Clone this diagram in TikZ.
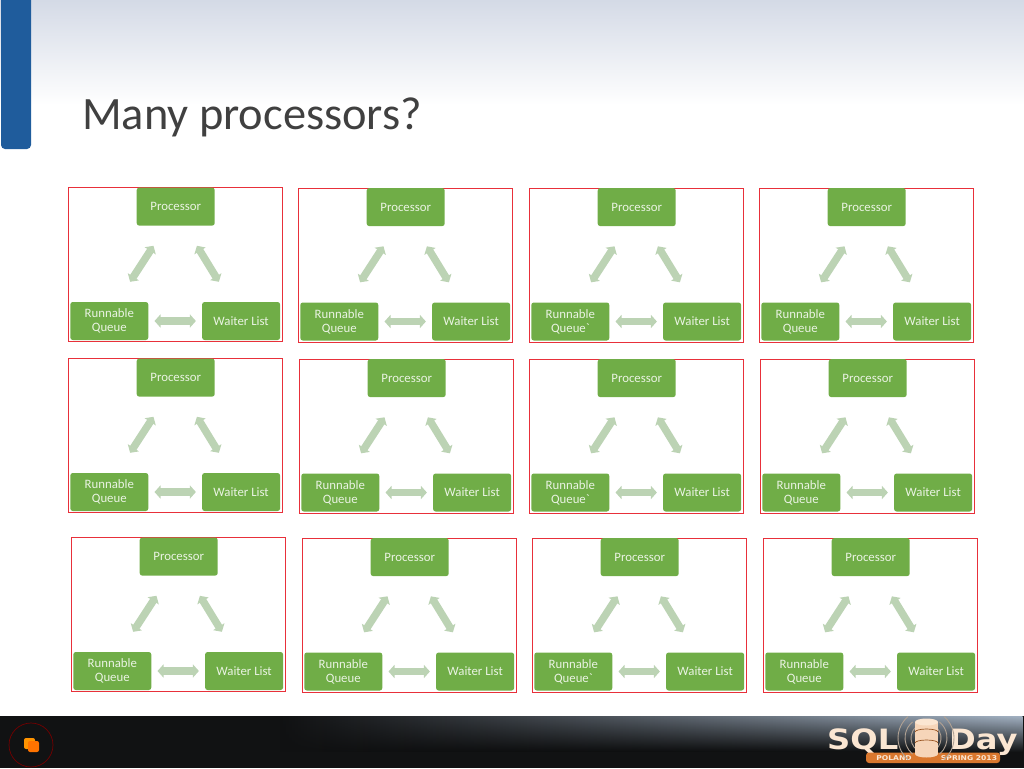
\documentclass[tikz,border=0pt]{standalone}
\usepackage{fontspec}
\setmainfont{Carlito}
\newfontfamily\boxfont{Carlito}
\newfontfamily\logofont[FakeStretch=1.15]{DejaVu Sans}
\usetikzlibrary{positioning, arrows.meta, fadings}
\definecolor{boxgreen}{HTML}{70AD47}
\definecolor{boxtext}{HTML}{EAF3E3}
\definecolor{flowgreen}{HTML}{BCD3B4}
\definecolor{framered}{HTML}{E8303A}
\definecolor{barblue}{HTML}{1F5C9C}
\definecolor{logopeach}{HTML}{FBE6D2}
\definecolor{logoorange}{HTML}{D9772E}
\definecolor{bandslate}{HTML}{A3B2C3}
\definecolor{bandblack}{HTML}{111213}
\tikzfading[name=bandfade, left color=transparent!100, right color=transparent!0]
\tikzstyle{frame} = [rectangle, anchor=north west, minimum width=214pt, minimum height=154pt, inner sep=0pt, draw=framered, line width=1.4pt]
\tikzstyle{process} = [rectangle, rounded corners=2.5pt, minimum width=78pt, minimum height=38pt, inner sep=0pt, align=center, fill=boxgreen, text=boxtext, font=\boxfont\fontsize{12.8}{14}\selectfont]
\tikzstyle{arrow} = [draw=flowgreen, line width=7.5pt, {Triangle[length=6pt,width=13pt]}-{Triangle[length=6pt,width=13pt]}]
\tikzstyle{wave} = [logopeach!70!black, line width=0.9pt]
\newcommand{\panel}[4]{
\node (frame#1) [frame] at (#2,#3) {};
\node (proc#1) [process, below=0.4pt of frame#1.north] {Processor};
\node (run#1) [process, below left=76pt and -12pt of proc#1] {Runnable\\Queue#4};
\node (wait#1) [process, below right=76pt and -13pt of proc#1] {Waiter List};
\draw [arrow] ([shift={(17,20)}]proc#1.south west) -- ([shift={(60,-20)}]run#1.north west);
\draw [arrow] ([shift={(-18,20)}]proc#1.south east) -- ([shift={(17,-20)}]wait#1.north west);
\draw [arrow, shorten <=6pt, shorten >=6pt] (run#1.east) -- (wait#1.west);
}
\begin{document}
\begin{tikzpicture}[x=1pt, y=-1pt]
\useasboundingbox (0,0) rectangle (1024,768);
\shade [top color={rgb,255:red,212;green,218;blue,230}, bottom color=white] (0,0) rectangle (1024,105);
\fill [barblue] (1,0) -- (31,0) [rounded corners=4pt] -- (31,149) -- (1,149) [sharp corners] -- cycle;
\node (title) [anchor=west, inner sep=0pt, font=\fontsize{46.4}{52}\selectfont, text=black!75] at (82,117) {Many processors?};

\panel{a}{68}{187}{}
\panel{b}{298}{187.5}{}
\panel{c}{529}{187.5}{`}
\panel{d}{759}{187.5}{}
\panel{e}{68}{358}{}
\panel{f}{299}{358.5}{}
\panel{g}{529}{358.5}{`}
\panel{h}{760}{358.5}{}
\panel{i}{71}{537}{}
\panel{j}{302}{537.5}{}
\panel{k}{532}{537.5}{`}
\panel{l}{763}{537.5}{}

\fill [bandblack] (0,716) rectangle (1024,768);
\fill [top color=bandslate, bottom color=bandblack, path fading=bandfade] (280,716) rectangle (1024,752);
\draw [red!45!black, line width=0.7pt] (31,745) circle (22);
\fill [orange!85!yellow, rounded corners=2pt] (24,738) rectangle (35,749);
\fill [orange!90!red, rounded corners=2pt] (28,741) rectangle (39,752);

\node (sql) [anchor=base west, inner sep=0pt, text=logopeach, font=\logofont\fontsize{28}{30}\selectfont\bfseries] at (827,749.5) {SQL};
\node (day) [anchor=base west, inner sep=0pt, text=logopeach, font=\logofont\fontsize{28}{30}\selectfont\bfseries] at (949,749.5) {Day};
\fill [logoorange, rounded corners=3pt] (866,752.5) rectangle (1000,763);
\node (poland) [inner sep=0pt, text=logopeach, font=\logofont\fontsize{6.6}{8}\selectfont\bfseries] at (894,758.5) {POLAND};
\node (spring) [inner sep=0pt, text=logopeach, font=\logofont\fontsize{6.6}{8}\selectfont\bfseries] at (969,758.5) {SPRING 2013};
\foreach \r in {15,21,28}{
\draw [wave] (926,738) ++(130:\r) arc (130:230:\r);
\draw [wave] (926,738) ++(50:\r) arc (50:-50:\r);
}
\fill [logopeach!85!logoorange] (915,722) rectangle (938,754);
\fill [logopeach!85!logoorange] (926.5,754) ellipse (11.5 and 3.5);
\fill [logopeach] (926.5,722) ellipse (11.5 and 3.5);
\draw [logoorange!70!black, line width=0.7pt] (915,732) arc (180:0:11.5 and -3);
\draw [logoorange!70!black, line width=0.7pt] (915,743) arc (180:0:11.5 and -3);
\end{tikzpicture}
\end{document}
